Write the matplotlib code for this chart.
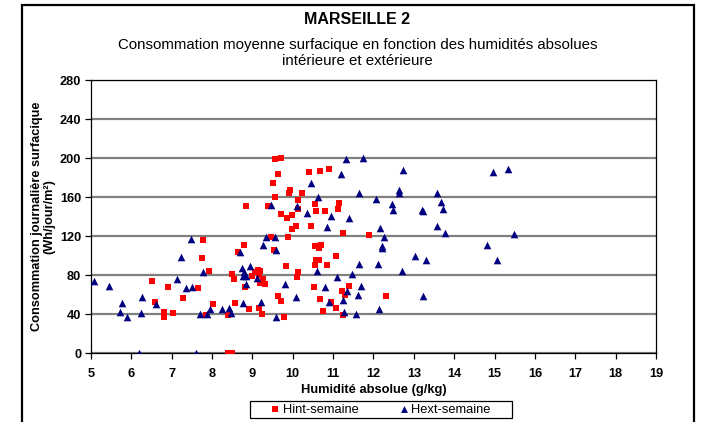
import matplotlib
matplotlib.use('Agg')
import matplotlib.pyplot as plt
from matplotlib.patches import Rectangle

plt.rcParams['font.family'] = ['Liberation Sans', 'DejaVu Sans']

# Hint-semaine (humidité intérieure)
hint_x = [6.52, 6.59, 6.80, 6.80, 6.91, 7.04, 7.28, 7.66, 7.76, 7.78, 7.93, 8.02, 7.85,
          8.40, 8.50, 8.49, 8.55, 8.57, 8.40,
          9.55, 9.70, 9.64, 9.50, 10.41, 10.68, 10.90, 9.94, 9.90, 10.22, 9.55, 10.12,
          10.12, 8.84, 9.38, 10.55, 10.58, 10.81, 11.15, 11.13, 9.70, 9.97, 9.85, 9.99,
          10.07, 10.46, 9.87, 9.45, 8.79, 8.64, 9.54, 10.55, 10.65, 10.69, 11.08, 10.57,
          10.64, 10.54, 10.86, 9.84, 9.13, 9.20, 9.06, 8.99, 10.12, 10.10, 9.27, 9.20,
          9.31, 8.82, 10.53, 9.63, 9.72, 10.68, 10.95, 8.91, 9.16, 9.23, 9.79, 10.74,
          11.06, 11.25, 11.89, 11.40, 11.22, 11.29, 12.31, 11.24, 9.17]
hint_y = [74, 52, 42, 37, 68, 41, 56, 67, 97, 116, 84, 50, 39,
          0, 0, 81, 76, 51, 39,
          199, 200, 184, 174, 186, 187, 189, 167, 164, 164, 160, 157,
          148, 151, 151, 153, 146, 146, 154, 148, 143, 142, 138, 127,
          130, 130, 119, 119, 111, 104, 106, 110, 108, 111, 99, 95,
          95, 90, 90, 89, 85, 84, 83, 79, 83, 78, 76, 72,
          71, 68, 68, 58, 53, 55, 52, 45, 46, 40, 37, 43,
          46, 123, 121, 69, 64, 60, 58, 39, 80]

# Hext-semaine (humidité extérieure)
hext_x = [5.08, 5.45, 5.78, 5.72, 5.89, 6.18, 6.23, 6.26, 6.60, 7.13, 7.24, 7.35, 7.47,
          7.51, 7.61, 7.69, 7.78, 7.88, 7.95, 8.24, 8.41, 8.46,
          10.46, 10.62, 9.47, 10.10, 10.34, 10.94, 10.86, 9.34, 9.56, 9.27, 8.69, 9.58,
          8.73, 8.94, 8.80, 8.84, 8.76, 8.84, 9.11, 9.80, 10.60, 11.10, 10.80, 10.09,
          8.77, 9.22, 9.58, 10.89,
          11.31, 11.75, 11.20, 12.72, 11.65, 12.07, 12.64, 12.62, 12.46, 12.48, 13.21,
          13.23, 13.57, 13.68, 13.73, 11.40, 12.17, 12.27, 12.21, 12.22, 13.58, 13.77,
          13.03, 13.29, 11.65, 12.10, 12.70, 11.47, 11.69, 11.35, 11.62, 11.24, 13.22,
          12.13, 11.28, 11.56,
          14.96, 15.34, 15.48, 14.80, 15.06]
hext_y = [74, 69, 51, 42, 37, 0, 41, 57, 50, 76, 98, 67, 117,
          68, 0, 40, 83, 40, 45, 45, 46, 41,
          174, 160, 152, 151, 144, 141, 129, 119, 119, 111, 104, 106,
          87, 89, 83, 79, 79, 71, 77, 71, 84, 78, 68, 57,
          51, 52, 37, 52,
          199, 200, 184, 188, 164, 158, 167, 164, 153, 147, 147,
          146, 164, 155, 148, 138, 128, 119, 110, 108, 130, 123,
          99, 95, 91, 91, 84, 81, 69, 64, 60, 54, 58,
          45, 42, 40,
          186, 189, 122, 111, 95]

x_ticks = list(range(5, 20))
y_ticks = list(range(0, 281, 40))

fig = plt.figure(figsize=(7.02, 4.22), dpi=100)
ax = fig.add_axes([0.1296, 0.1635, 0.8049, 0.6469])

# outer chart frame
fig.patches.append(Rectangle((22 / 702, -0.02), 672 / 702, 1.02 - 5 / 422,
                             transform=fig.transFigure, fill=False,
                             edgecolor='black', lw=1.6))
# legend frame (drawn separately so the padding can match)
fig.patches.append(Rectangle((250 / 702, 1 - 418 / 422), 262 / 702, 17 / 422,
                             transform=fig.transFigure, fill=False,
                             edgecolor='black', lw=0.9))

ax.scatter(hint_x, hint_y, marker='s', s=20, c='#FF0000', lw=0,
           label='Hint-semaine', zorder=3)
ax.scatter(hext_x, hext_y, marker='^', s=30, c='#000080', lw=0,
           label='Hext-semaine', zorder=3)

ax.set_xlim(5, 19)
ax.set_ylim(0, 280)
ax.set_xticks(x_ticks)
ax.set_yticks(y_ticks)
ax.yaxis.grid(True, color='#808080', lw=1.6)
ax.set_axisbelow(True)
for s in ax.spines.values():
    s.set_color('black')
    s.set_linewidth(0.9)
ax.tick_params(direction='out', length=4, width=0.9, labelsize=9.2)
ax.tick_params(axis='x', pad=7)
ax.tick_params(axis='y', pad=3)
for lbl in ax.get_xticklabels() + ax.get_yticklabels():
    lbl.set_fontweight('bold')

ax.set_xlabel('Humidité absolue (g/kg)', fontsize=9.3, fontweight='bold', labelpad=3)
ax.set_ylabel('Consommation journalière surfacique\n(Wh/jour/m²)', fontsize=9.2,
              fontweight='bold', labelpad=3, linespacing=1.1)

fig.text(0.509, 1 - 20 / 422, 'MARSEILLE 2', ha='center', va='center',
         fontsize=11.5, fontweight='bold')
fig.text(0.509, 1 - 53 / 422,
         'Consommation moyenne surfacique en fonction des humidités absolues\n'
         'intérieure et extérieure',
         ha='center', va='center', fontsize=10.8, linespacing=1.25)

fig.legend(loc='center', bbox_to_anchor=(381 / 702, 1 - 409.5 / 422), ncol=2,
           fontsize=9.3, frameon=False, handlelength=0.6, handletextpad=0.3,
           columnspacing=3.2, borderpad=0.2, markerscale=0.9)

fig.savefig('out.png', dpi=100)
